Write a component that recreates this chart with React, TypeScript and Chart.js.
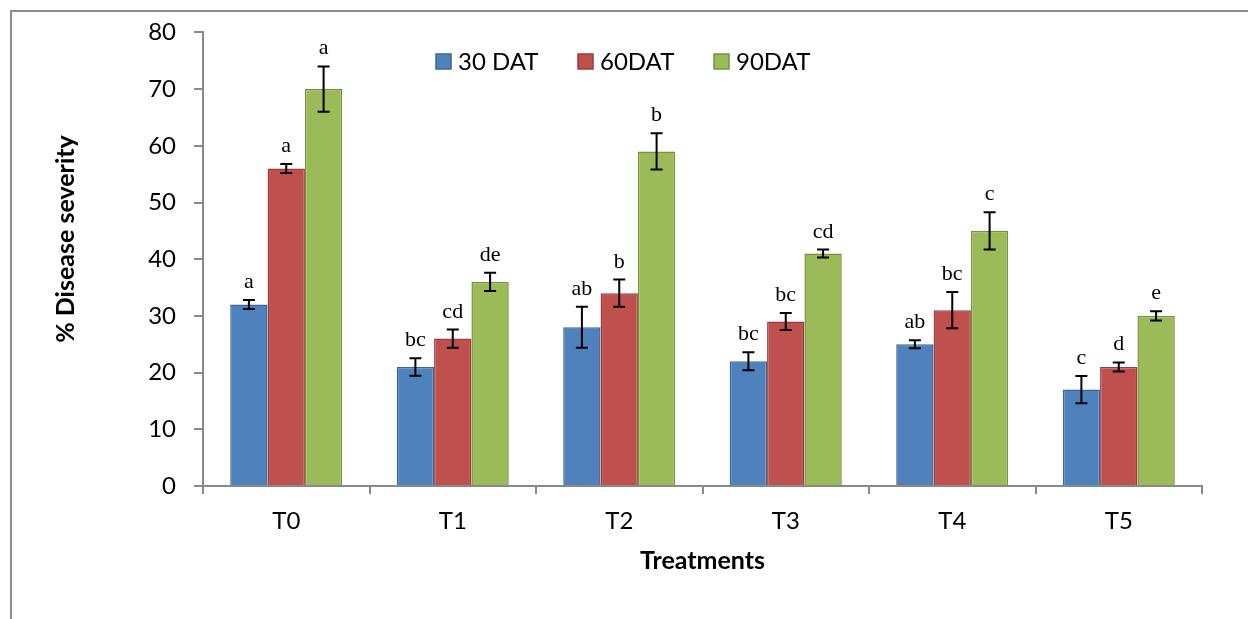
import React, { useEffect, useRef } from "react";
import { Chart, registerables } from "chart.js";

Chart.register(...registerables);

const categories = ["T0", "T1", "T2", "T3", "T4", "T5"];
const seriesNames = ["30 DAT", "60DAT", "90DAT"];
const dat30 = [32, 21, 28, 22, 25, 17];
const dat60 = [56, 26, 34, 29, 31, 21];
const dat90 = [70, 36, 59, 41, 45, 30];
const err30 = [0.8, 1.55, 3.6, 1.6, 0.7, 2.4];
const err60 = [0.8, 1.6, 2.4, 1.5, 3.2, 0.8];
const err90 = [4.0, 1.6, 3.2, 0.7, 3.3, 0.8];
const letters30 = ["a", "bc", "ab", "bc", "ab", "c"];
const letters60 = ["a", "cd", "b", "bc", "bc", "d"];
const letters90 = ["a", "de", "b", "cd", "c", "e"];
const yTicks = [0, 10, 20, 30, 40, 50, 60, 70, 80];

const fills = ["#4F81BD", "#C0504D", "#9BBB59"];
const borders = ["#3B6796", "#9A3C3A", "#76923F"];
const SANS = "Lato, 'Noto Sans', sans-serif";
const SERIF = "'Liberation Serif', 'DejaVu Serif', serif";

export default function App() {
  const ref = useRef<HTMLCanvasElement | null>(null);
  useEffect(() => {
    document.body.style.margin = "0";
    const errs = [err30, err60, err90];
    const lets = [letters30, letters60, letters90];
    const overlay = {
      id: "overlay",
      afterDatasetsDraw(chart: any) {
        const ctx = chart.ctx;
        const ys = chart.scales.y;
        ctx.save();
        chart.data.datasets.forEach((ds: any, di: number) => {
          const meta = chart.getDatasetMeta(di);
          meta.data.forEach((bar: any, i: number) => {
            const v = ds.data[i];
            const e = errs[di][i];
            const yt = ys.getPixelForValue(v + e);
            const yb = ys.getPixelForValue(v - e);
            const x = bar.x;
            ctx.strokeStyle = "#000";
            ctx.lineWidth = 2;
            ctx.beginPath();
            ctx.moveTo(x, yt);
            ctx.lineTo(x, yb);
            ctx.moveTo(x - 6, yt);
            ctx.lineTo(x + 6, yt);
            ctx.moveTo(x - 6, yb);
            ctx.lineTo(x + 6, yb);
            ctx.stroke();
            ctx.fillStyle = "#000";
            ctx.font = `22px ${SERIF}`;
            ctx.textAlign = "center";
            ctx.textBaseline = "alphabetic";
            ctx.fillText(lets[di][i], x, yt - 12);
          });
        });
        ctx.restore();
      },
      afterDraw(chart: any) {
        const ctx = chart.ctx;
        ctx.save();
        // frame
        ctx.strokeStyle = "#8c8c8c";
        ctx.lineWidth = 2;
        ctx.beginPath();
        ctx.moveTo(11, 619);
        ctx.lineTo(11, 11);
        ctx.lineTo(1248, 11);
        ctx.stroke();
        // legend
        const lx = [436, 578, 714];
        ctx.font = `24px ${SANS}`;
        ctx.textBaseline = "middle";
        ctx.textAlign = "left";
        seriesNames.forEach((n, i) => {
          ctx.fillStyle = fills[i];
          ctx.fillRect(lx[i], 54, 15, 15);
          ctx.strokeStyle = borders[i];
          ctx.lineWidth = 1.5;
          ctx.strokeRect(lx[i], 54, 15, 15);
          ctx.fillStyle = "#000";
          ctx.fillText(n, lx[i] + 22, 62);
        });
        // titles
        ctx.font = `bold 25px ${SANS}`;
        ctx.textAlign = "center";
        ctx.textBaseline = "middle";
        const ca = chart.chartArea;
        ctx.fillText("Treatments", (ca.left + ca.right) / 2, 561);
        ctx.translate(66, 239);
        ctx.rotate(-Math.PI / 2);
        ctx.fillText("% Disease severity", 0, 0);
        ctx.restore();
      },
    };
    const chart = new Chart(ref.current as HTMLCanvasElement, {
      type: "bar",
      data: {
        labels: categories,
        datasets: [dat30, dat60, dat90].map((d, i) => ({
          label: seriesNames[i],
          data: d,
          backgroundColor: fills[i],
          borderColor: borders[i],
          borderWidth: 1.5,
          categoryPercentage: 0.673,
          barPercentage: 1,
        })),
      },
      options: {
        animation: false,
        responsive: true,
        maintainAspectRatio: false,
        layout: { padding: { left: 0, top: 31, right: 46, bottom: 0 } },
        plugins: { legend: { display: false }, tooltip: { enabled: false } },
        scales: {
          x: {
            afterFit: (s: any) => {
              s.height = 133;
            },
            border: { display: true, color: "#898989", width: 2 },
            grid: {
              drawOnChartArea: false,
              drawTicks: true,
              tickLength: 8,
              color: "#898989",
              lineWidth: 2,
              offset: true,
            },
            ticks: { color: "#000", font: { family: SANS, size: 24 }, padding: 13 },
          },
          y: {
            min: 0,
            max: 80,
            afterFit: (s: any) => {
              s.width = 203;
            },
            afterBuildTicks: (s: any) => {
              s.ticks = yTicks.map((v) => ({ value: v }));
            },
            border: { display: true, color: "#898989", width: 2 },
            grid: {
              drawOnChartArea: false,
              drawTicks: true,
              tickLength: 9,
              color: "#898989",
              lineWidth: 2,
            },
            ticks: { color: "#000", font: { family: SANS, size: 24 }, padding: 18 },
          },
        },
      },
      plugins: [overlay],
    });
    return () => chart.destroy();
  }, []);
  return (
    <div style={{ position: "fixed", left: 0, top: 0, width: 1248, height: 619, background: "#fff" }}>
      <canvas ref={ref} />
    </div>
  );
}
